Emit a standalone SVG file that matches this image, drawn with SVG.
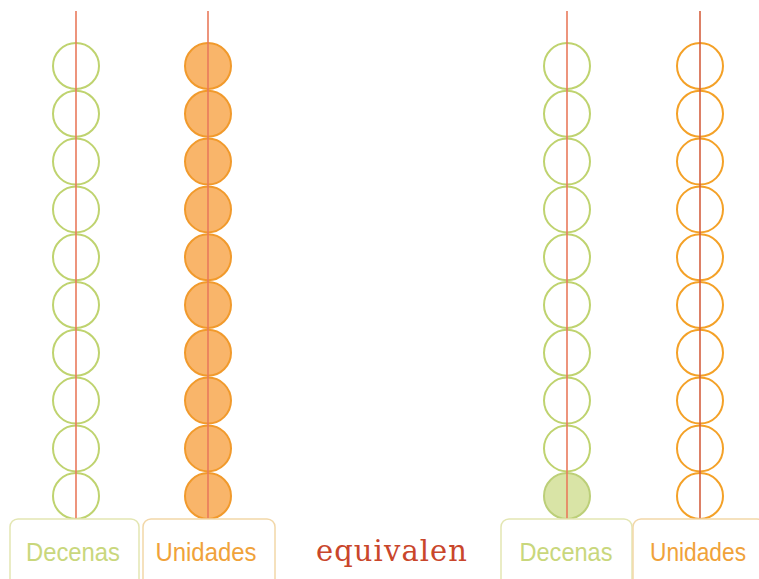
<svg xmlns="http://www.w3.org/2000/svg" width="759" height="579" viewBox="0 0 759 579">
<defs>
<style>
.bg{fill:#ffffff}
.g{fill:none;stroke:#bfd36f;stroke-width:2}
.gf{fill:#d9e4a6;stroke:#bccf78;stroke-width:2}
.o{fill:none;stroke:#f4a127;stroke-width:2}
.of{fill:#f9b56a;stroke:#f19a2c;stroke-width:2}
.rod{stroke:#e97a5c;stroke-width:1.6}
.boxg{fill:#ffffff;stroke:#e3e6b2;stroke-width:1.5}
.boxo{fill:#ffffff;stroke:#f2d7a8;stroke-width:1.5}
.lg{font-family:"Liberation Sans",Arial,sans-serif;font-size:25px;fill:#c9d77c;text-anchor:middle}
.lo{font-family:"Liberation Sans",Arial,sans-serif;font-size:25px;fill:#f0a23a;text-anchor:middle}
.eq{font-family:"DejaVu Serif","Liberation Serif",serif;font-size:29px;fill:#c9462b}
</style>
<g id="colG"><circle class="g" cx="0" cy="66" r="23"/><circle class="g" cx="0" cy="113.8" r="23"/><circle class="g" cx="0" cy="161.6" r="23"/><circle class="g" cx="0" cy="209.4" r="23"/><circle class="g" cx="0" cy="257.2" r="23"/><circle class="g" cx="0" cy="305" r="23"/><circle class="g" cx="0" cy="352.8" r="23"/><circle class="g" cx="0" cy="400.6" r="23"/><circle class="g" cx="0" cy="448.4" r="23"/></g>
<g id="colOF"><circle class="of" cx="0" cy="66" r="23"/><circle class="of" cx="0" cy="113.8" r="23"/><circle class="of" cx="0" cy="161.6" r="23"/><circle class="of" cx="0" cy="209.4" r="23"/><circle class="of" cx="0" cy="257.2" r="23"/><circle class="of" cx="0" cy="305" r="23"/><circle class="of" cx="0" cy="352.8" r="23"/><circle class="of" cx="0" cy="400.6" r="23"/><circle class="of" cx="0" cy="448.4" r="23"/><circle class="of" cx="0" cy="496" r="23"/></g>
<g id="colO"><circle class="o" cx="0" cy="66" r="23"/><circle class="o" cx="0" cy="113.8" r="23"/><circle class="o" cx="0" cy="161.6" r="23"/><circle class="o" cx="0" cy="209.4" r="23"/><circle class="o" cx="0" cy="257.2" r="23"/><circle class="o" cx="0" cy="305" r="23"/><circle class="o" cx="0" cy="352.8" r="23"/><circle class="o" cx="0" cy="400.6" r="23"/><circle class="o" cx="0" cy="448.4" r="23"/><circle class="o" cx="0" cy="496" r="23"/></g>
</defs>
<rect class="bg" x="0" y="0" width="759" height="579"/>
<g id="abacus-left-decenas">
<use href="#colG" x="76"/><circle class="g" cx="76" cy="496" r="23"/>
<line class="rod" x1="76" y1="11" x2="76" y2="519"/>
<rect class="boxg" x="10" y="519" width="129" height="80" rx="8"/>
<text class="lg" x="73" y="561" textLength="94" lengthAdjust="spacingAndGlyphs">Decenas</text>
</g>
<g id="abacus-left-unidades">
<use href="#colOF" x="208"/>
<line class="rod" x1="208" y1="11" x2="208" y2="519"/>
<rect class="boxo" x="143" y="519" width="132" height="80" rx="8"/>
<text class="lo" x="206" y="561" textLength="101" lengthAdjust="spacingAndGlyphs">Unidades</text>
</g>
<g id="equivalen"><text class="eq" x="316" y="561" textLength="151" lengthAdjust="spacing">equivalen</text></g>
<g id="abacus-right-decenas">
<use href="#colG" x="567"/><circle class="gf" cx="567" cy="496" r="23"/>
<line class="rod" x1="567" y1="11" x2="567" y2="519"/>
<rect class="boxg" x="501" y="519" width="131" height="80" rx="8"/>
<text class="lg" x="566" y="561" textLength="93" lengthAdjust="spacingAndGlyphs">Decenas</text>
</g>
<g id="abacus-right-unidades">
<use href="#colO" x="700"/>
<line class="rod" x1="700" y1="11" x2="700" y2="519" style="stroke:#d5603f"/>
<rect class="boxo" x="633" y="519" width="132" height="80" rx="8"/>
<text class="lo" x="698" y="561" textLength="96" lengthAdjust="spacingAndGlyphs">Unidades</text>
</g>
<g id="connectors"/>
</svg>
